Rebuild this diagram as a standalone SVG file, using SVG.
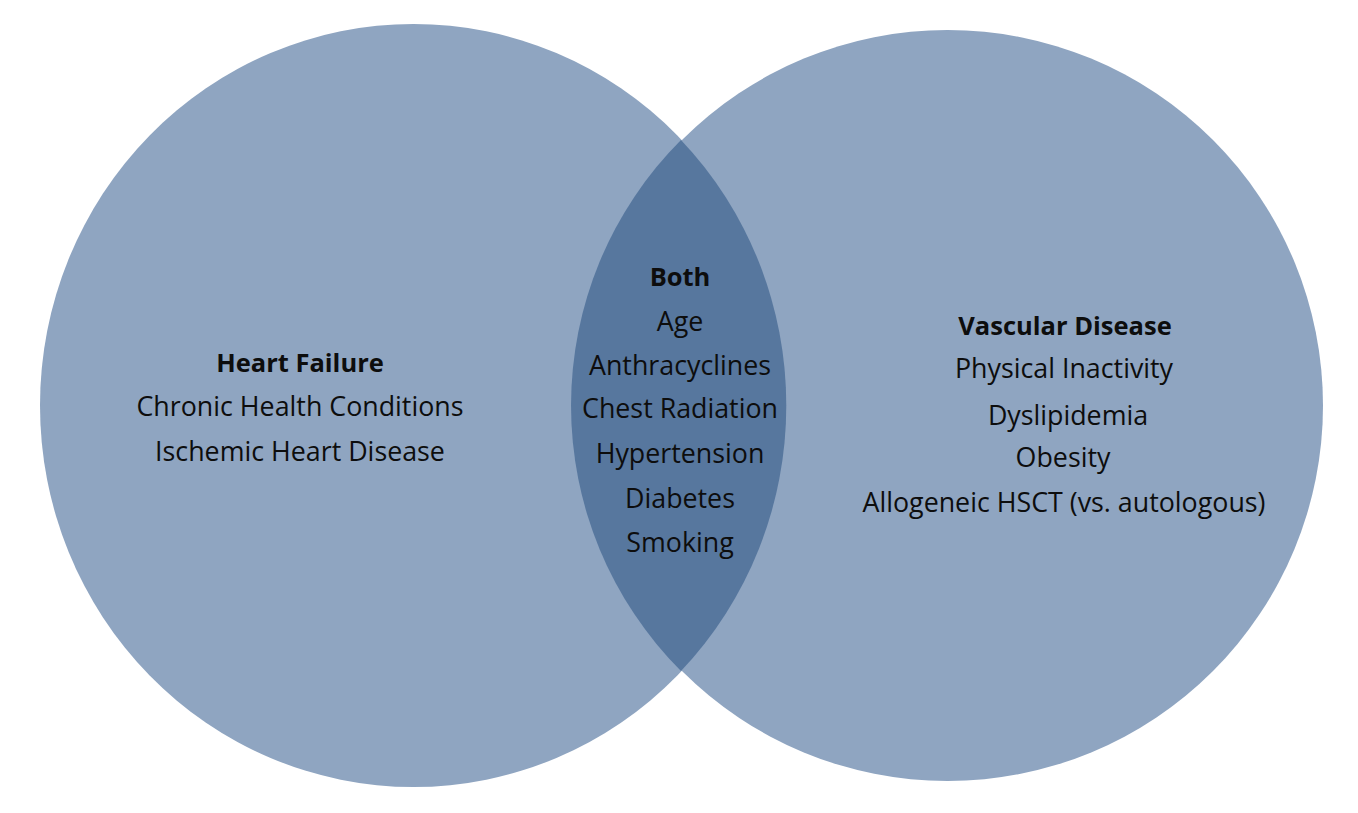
<svg xmlns="http://www.w3.org/2000/svg" width="1358" height="813" viewBox="0 0 1358 813">
  <style>
    .set { fill: #8FA5C1; }
    .both { fill: #57779E; }
    text { font-family: "Open Sans", "Noto Sans", "Liberation Sans", sans-serif; font-size: 26.8px; fill: #0d0d0d; text-anchor: middle; }
    .title { font-weight: bold; font-size: 25.5px; }
  </style>
  <rect width="1358" height="813" fill="#ffffff"/>
  <g id="heart-failure">
    <ellipse class="set" cx="413.5" cy="405.5" rx="373.5" ry="381.5"/>
  </g>
  <g id="vascular-disease">
    <circle class="set" cx="947.5" cy="405.5" r="375.5"/>
  </g>
  <g id="both">
    <path class="both" d="M681,140 A375.5,375.5 0 0 0 681,671 A373.5,381.5 0 0 0 681,140 Z"/>
  </g>
  <g id="heart-failure-labels">
    <text class="title" x="300" y="372">Heart Failure</text>
    <text x="300" y="416">Chronic Health Conditions</text>
    <text x="300" y="461">Ischemic Heart Disease</text>
  </g>
  <g id="both-labels">
    <text class="title" x="680" y="286">Both</text>
    <text x="680" y="331">Age</text>
    <text x="680" y="375">Anthracyclines</text>
    <text x="680" y="418">Chest Radiation</text>
    <text x="680" y="463">Hypertension</text>
    <text x="680" y="508">Diabetes</text>
    <text x="680" y="552">Smoking</text>
  </g>
  <g id="vascular-disease-labels">
    <text class="title" x="1065" y="335">Vascular Disease</text>
    <text x="1064" y="378">Physical Inactivity</text>
    <text x="1068" y="425">Dyslipidemia</text>
    <text x="1063" y="467">Obesity</text>
    <text x="1064" y="512">Allogeneic HSCT (vs. autologous)</text>
  </g>
</svg>
